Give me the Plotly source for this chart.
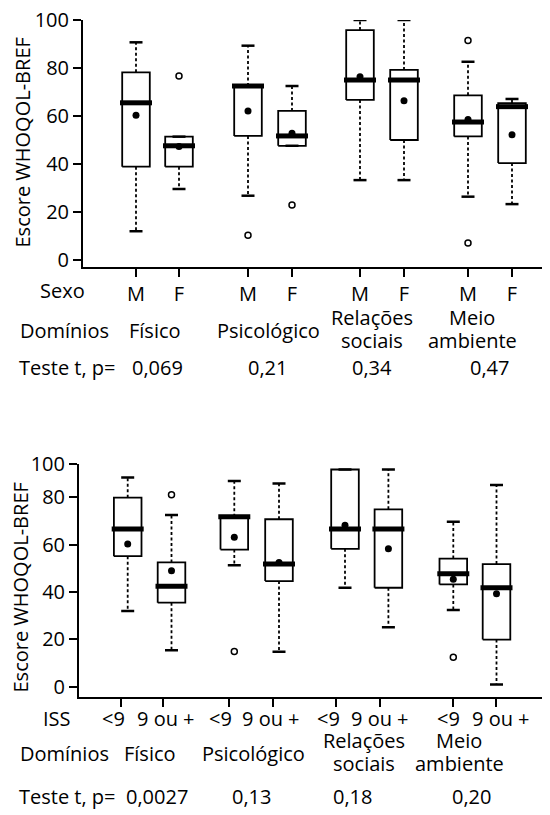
import plotly.graph_objects as go

# ---------------- data ----------------
dominios = [["Físico"], ["Psicológico"], ["Relações", "sociais"], ["Meio", "ambiente"]]

# Top panel: Sexo (M, F) per domain
sexo_labels = ["M", "F"]
top_p = ["0,069", "0,21", "0,34", "0,47"]
top_wlow = [12.0, 29.6, 26.8, 47.6, 33.3, 33.3, 26.4, 23.3]
top_q1 = [38.9, 38.9, 51.7, 47.6, 66.7, 50.0, 51.5, 40.4]
top_med = [65.5, 47.6, 72.5, 51.7, 75.0, 75.0, 57.5, 63.9]
top_q3 = [78.2, 51.4, 72.5, 62.1, 95.8, 79.2, 68.6, 65.4]
top_whigh = [90.7, 51.4, 89.3, 72.5, 100.0, 100.0, 82.6, 67.1]
top_mean = [60.3, 47.3, 62.1, 52.8, 76.4, 66.4, 58.6, 52.2]
top_out = [[], [76.7], [10.3], [22.9], [], [], [91.5, 7.1], []]

# Bottom panel: ISS (<9, 9 ou +) per domain
iss_labels = ["<9", "9 ou +"]
bot_p = ["0,0027", "0,13", "0,18", "0,20"]
bot_wlow = [32.0, 15.4, 51.3, 14.8, 41.8, 25.1, 32.4, 1.0]
bot_q1 = [55.1, 35.5, 57.9, 44.6, 58.2, 41.8, 43.2, 19.9]
bot_med = [66.6, 42.4, 71.8, 51.8, 66.6, 66.6, 47.7, 41.8]
bot_q3 = [79.8, 52.5, 71.8, 70.7, 91.7, 74.9, 54.1, 51.8]
bot_whigh = [88.3, 72.5, 86.8, 85.8, 91.7, 91.7, 69.7, 85.2]
bot_mean = [60.3, 49.0, 63.1, 52.5, 68.2, 58.3, 45.4, 39.3]
bot_out = [[], [81.0], [14.9], [], [], [], [12.5], []]

y_ticks = [0, 20, 40, 60, 80, 100]

# ---------------- layout constants ----------------
OFF = 8                      # page body margin in the browser
W, H = 550 - OFF, 815 - OFF
FONT = "Open Sans"
FS = 20
top_box_x = [136, 179, 248, 292, 360, 404, 468, 512]
top_tick_x = top_box_x
bot_box_x = [127.7, 171.5, 234.3, 279, 345, 388.4, 453.3, 496.5]
bot_tick_x = [120.7, 163.3, 228.7, 272.7, 336, 380, 453.3, 495.7]
bot_label_x = [113, 166, 220, 271, 328, 380, 448, 501]
HALF = 13.8
MED_HALF = 16
CAP_HALF = 6.5
BOT_Y_TOP = 93.9   # position where the "100" label sits in the lower panel


def add_boxes(fig, xs, wlow, q1, med, q3, whigh, mean, outs, xa, ya):
    bx, by, sx, sy, cx, cy, mx, my, ox, oy = [], [], [], [], [], [], [], [], [], []
    for i, x in enumerate(xs):
        bx += [x - HALF, x + HALF, x + HALF, x - HALF, x - HALF, None]
        by += [q1[i], q1[i], q3[i], q3[i], q1[i], None]
        if whigh[i] > q3[i]:
            sx += [x, x, None]; sy += [q3[i], whigh[i], None]
        if wlow[i] < q1[i]:
            sx += [x, x, None]; sy += [q1[i], wlow[i], None]
        for v in (whigh[i], wlow[i]):
            cx += [x - CAP_HALF, x + CAP_HALF, None]; cy += [v, v, None]
        mx += [x - MED_HALF, x + MED_HALF, None]; my += [med[i], med[i], None]
        for o in outs[i]:
            ox.append(x); oy.append(o)
    common = dict(xaxis=xa, yaxis=ya, hoverinfo="skip", showlegend=False)
    fig.add_trace(go.Scatter(x=bx, y=by, mode="lines", fill="toself", fillcolor="white",
                             line=dict(color="black", width=1.8), **common))
    fig.add_trace(go.Scatter(x=sx, y=sy, mode="lines",
                             line=dict(color="black", width=1.8, dash="3px,2.5px"), **common))
    fig.add_trace(go.Scatter(x=cx, y=cy, mode="lines",
                             line=dict(color="black", width=2.5), **common))
    fig.add_trace(go.Scatter(x=mx, y=my, mode="lines",
                             line=dict(color="black", width=5), **common))
    fig.add_trace(go.Scatter(x=list(xs), y=mean, mode="markers",
                             marker=dict(color="black", size=7, symbol="circle"), **common))
    fig.add_trace(go.Scatter(x=ox, y=oy, mode="markers",
                             marker=dict(color="white", size=6, symbol="circle",
                                         line=dict(color="black", width=1.5)), **common))


fig = go.Figure()
add_boxes(fig, top_box_x, top_wlow, top_q1, top_med, top_q3, top_whigh, top_mean, top_out, "x", "y")
add_boxes(fig, bot_box_x, bot_wlow, bot_q1, bot_med, bot_q3, bot_whigh, bot_mean, bot_out, "x2", "y2")


def px(x):
    return min(1.0, max(0.0, (x - OFF) / W))


def py(y):
    return min(1.0, max(0.0, 1 - (y - OFF) / H))


axis_common = dict(showline=True, linecolor="black", linewidth=2, ticks="outside",
                   ticklen=8, tickwidth=2, tickcolor="black", showgrid=False, zeroline=False,
                   tickangle=0,
                   tickfont=dict(family=FONT, size=FS, color="black"), fixedrange=True)

fig.update_layout(
    width=W, height=H, margin=dict(l=0, r=0, t=0, b=0, pad=0, autoexpand=False),
    paper_bgcolor="white", plot_bgcolor="white", showlegend=False,
    font=dict(family=FONT, size=FS, color="black"),
    xaxis=dict(domain=[px(83), px(542)], range=[83, 542], anchor="y",
               tickmode="array", tickvals=top_tick_x, ticktext=sexo_labels * 4, **axis_common),
    yaxis=dict(domain=[py(267), py(20)], range=[-2.9, 100], anchor="x",
               tickmode="array", tickvals=y_ticks, ticktext=[str(v) for v in y_ticks], **axis_common),
    xaxis2=dict(domain=[px(79), 1.0], range=[79, 550], anchor="y2",
                tickmode="array", tickvals=bot_tick_x, showticklabels=False, **axis_common),
    yaxis2=dict(domain=[py(696.7), py(464.3)], range=[-4.2, BOT_Y_TOP], anchor="x2",
                tickmode="array", tickvals=y_ticks[:-1] + [BOT_Y_TOP],
                ticktext=[str(v) for v in y_ticks], **axis_common),
)

ann = []


def A(text, x, y, xanchor="center", angle=0, size=FS):
    ann.append(dict(text=text, x=px(x), y=py(y), xref="paper", yref="paper",
                    xanchor=xanchor, yanchor="middle", showarrow=False, textangle=angle,
                    font=dict(family=FONT, size=size, color="black")))


def dom_label(lines, x, y_single):
    if len(lines) == 1:
        A(lines[0], x, y_single)
    else:
        A(lines[0], x, y_single - 13)
        A(lines[1], x, y_single + 10)


# top panel texts
A("Escore WHOQOL-BREF", 22, 142.5, angle=-90)
A("Sexo", 62.5, 290)
A("Domínios", 18, 330, xanchor="left")
A("Teste t, p=", 17, 367, xanchor="left")
top_dom_x = [155, 268, 372, 472]
top_p_x = [157, 267, 372, 490]
for d, xd, p, xp in zip(dominios, top_dom_x, top_p, top_p_x):
    dom_label(d, xd, 330)
    A(p, xp, 367)

# bottom panel texts
A("Escore WHOQOL-BREF", 20, 587.5, angle=-90)
A("ISS", 57, 718)
for lab, xl in zip(iss_labels * 4, bot_label_x):
    A(lab, xl, 718)
A("Domínios", 18, 753, xanchor="left")
A("Teste t, p=", 17, 796, xanchor="left")
bot_dom_x = [150, 253, 364, 459]
bot_p_x = [157, 251, 352, 471]
for d, xd, p, xp in zip(dominios, bot_dom_x, bot_p, bot_p_x):
    dom_label(d, xd, 753)
    A(p, xp, 796)

fig.update_layout(annotations=ann)
fig.write_html("out.html")
